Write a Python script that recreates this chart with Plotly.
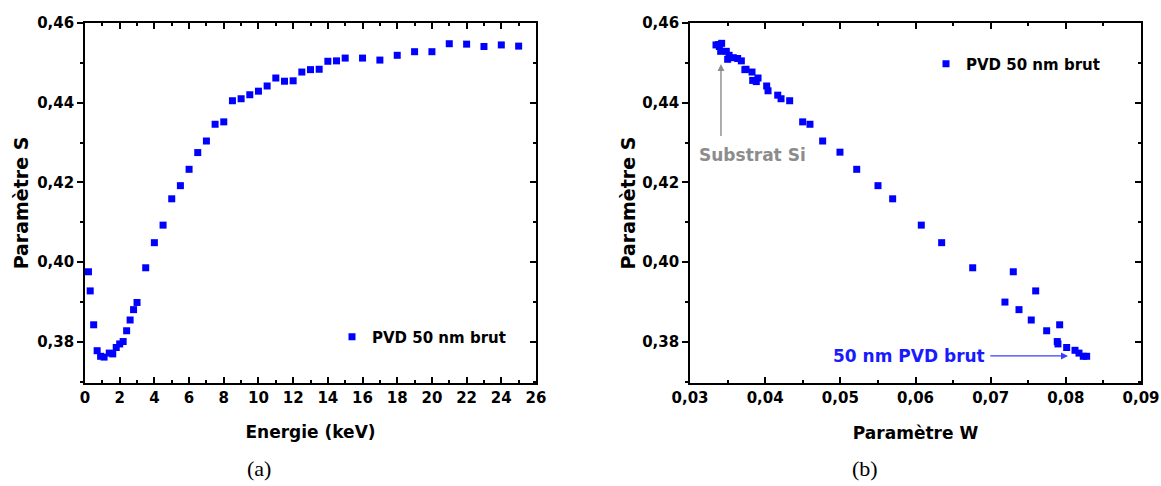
import plotly.graph_objects as go

# ---------------- data (a): S vs energy ----------------
energie_kev = [0.2, 0.3, 0.5, 0.7, 0.9, 1.1, 1.4, 1.6, 1.8, 2.0, 2.2, 2.4, 2.6, 2.8, 3.0,
               3.5, 4.0, 4.5, 5.0, 5.5, 6.0, 6.5, 7.0, 7.5, 8.0, 8.5, 9.0, 9.5, 10.0,
               10.5, 11.0, 11.5, 12.0, 12.5, 13.0, 13.5, 14.0, 14.5, 15.0, 16.0, 17.0,
               18.0, 19.0, 20.0, 21.0, 22.0, 23.0, 24.0, 25.0]
s_vs_energie = [0.3976, 0.3928, 0.3843, 0.3778, 0.3764, 0.3762, 0.3772, 0.3770, 0.3786,
                0.3795, 0.3801, 0.3828, 0.3855, 0.3881, 0.3899, 0.3986, 0.4049, 0.4093,
                0.4159, 0.4192, 0.4233, 0.4275, 0.4304, 0.4346, 0.4352, 0.4405, 0.4410,
                0.4420, 0.4429, 0.4442, 0.4462, 0.4454, 0.4455, 0.4477, 0.4483, 0.4484,
                0.4504, 0.4505, 0.4512, 0.4512, 0.4507, 0.4519, 0.4528, 0.4528, 0.4548,
                0.4547, 0.4541, 0.4545, 0.4542]

# ---------------- data (b): S vs W ----------------
param_w = [0.03346, 0.03382, 0.03421, 0.0339, 0.03408, 0.03483, 0.0352, 0.03501, 0.03576,
           0.03634, 0.03683, 0.0373, 0.03745, 0.03825, 0.03834, 0.03882, 0.03905, 0.0402,
           0.04038, 0.04167, 0.04211, 0.04326, 0.04499, 0.04596, 0.04765, 0.04995, 0.05218,
           0.05501, 0.05696, 0.06077, 0.06348, 0.06761, 0.07301, 0.07599, 0.0719, 0.07377,
           0.0754, 0.07745, 0.07918, 0.07886, 0.07895, 0.08011, 0.08122, 0.08175, 0.08232,
           0.08277]
s_vs_w = [0.4545, 0.4546, 0.4549, 0.4541, 0.4529, 0.4529, 0.4519, 0.4509, 0.4513,
          0.4511, 0.4505, 0.4483, 0.4484, 0.4477, 0.4456, 0.4453, 0.4462, 0.4442,
          0.4430, 0.4419, 0.4410, 0.4405, 0.4352, 0.4346, 0.4304, 0.4276, 0.4233,
          0.4192, 0.4159, 0.4093, 0.4049, 0.3986, 0.3976, 0.3928, 0.3900, 0.3881,
          0.3855, 0.3828, 0.3843, 0.3801, 0.3795, 0.3786, 0.3779, 0.3772, 0.3764,
          0.3764]

serie_label = "PVD 50 nm brut"
x_ticks_a = list(range(0, 27, 2))
s_range = [0.3697, 0.46]
e_range = [0, 26]
w_range = [0.03, 0.09]

W, H = 1161, 486
FONT = "DejaVu Sans"
BLUE = "#0000ff"

def px_x(p):
    return p / W

def px_y(p):
    return 1 - p / H

fig = go.Figure()

mk = dict(symbol="square", size=7, color=BLUE, line=dict(width=0))
fig.add_trace(go.Scatter(x=energie_kev, y=s_vs_energie, mode="markers", marker=mk,
                         name=serie_label, xaxis="x", yaxis="y", legend="legend",
                         hoverinfo="x+y"))
fig.add_trace(go.Scatter(x=param_w, y=s_vs_w, mode="markers", marker=mk,
                         name=serie_label, xaxis="x2", yaxis="y2", legend="legend2",
                         hoverinfo="x+y"))
# empty traces to carry the right-hand mirror axes
fig.add_trace(go.Scatter(x=[], y=[], xaxis="x", yaxis="y3", showlegend=False))
fig.add_trace(go.Scatter(x=[], y=[], xaxis="x2", yaxis="y4", showlegend=False))

tickfont = dict(family=FONT, size=15, color="black", weight="bold")
xtitlefont = dict(family=FONT, size=17, color="black", weight="bold")
ytitlefont = dict(family=FONT, size=19, color="black", weight="bold")
line = dict(showline=True, linecolor="black", linewidth=1.6, showgrid=False,
            zeroline=False, automargin=False)

ydom = [px_y(383), px_y(23)]

xa_common = dict(ticks="inside", ticklen=6, tickwidth=1.5, tickcolor="black",
                 mirror="ticks", tickfont=tickfont, **line)
ya_left = dict(ticks="outside", ticklen=6, tickwidth=1.5, tickcolor="black",
               tickfont=tickfont, range=s_range, tick0=0.38, dtick=0.02,
               tickformat=".2f", domain=ydom,
               minor=dict(dtick=0.01, ticks="outside", ticklen=3, tickwidth=1.5,
                          tickcolor="black", tick0=0.38), **line)
ya_right = dict(ticks="inside", ticklen=6, tickwidth=1.5, tickcolor="black",
                showticklabels=False, range=s_range, tick0=0.38, dtick=0.02,
                side="right",
                minor=dict(dtick=0.01, ticks="inside", ticklen=3, tickwidth=1.5,
                           tickcolor="black", tick0=0.38), **line)

fig.update_layout(
    width=W, height=H,
    margin=dict(l=0, r=0, t=0, b=0, autoexpand=False),
    paper_bgcolor="white", plot_bgcolor="white",
    separators=", ",
    font=dict(family=FONT, color="black"),
    xaxis=dict(domain=[px_x(85), px_x(536)], range=e_range, tickmode="array",
               tickvals=x_ticks_a, anchor="y",
               minor=dict(dtick=1, tick0=0, ticks="inside", ticklen=3, tickwidth=1.5,
                          tickcolor="black"),
               title=dict(text="Energie (keV)", font=xtitlefont, standoff=20),
               **xa_common),
    yaxis=dict(anchor="x", title=dict(text="Paramètre S", font=ytitlefont, standoff=4),
               **ya_left),
    yaxis3=dict(overlaying="y", anchor="x", **ya_right),
    xaxis2=dict(domain=[px_x(690), px_x(1141)], range=w_range, tick0=0.03, dtick=0.01,
                tickformat=".2f", anchor="y2",
                minor=dict(dtick=0.005, tick0=0.03, ticks="inside", ticklen=3,
                           tickwidth=1.5, tickcolor="black"),
                title=dict(text="Paramètre W", font=xtitlefont, standoff=21),
                **xa_common),
    yaxis2=dict(anchor="x2", title=dict(text="Paramètre S", font=ytitlefont, standoff=2),
                **ya_left),
    yaxis4=dict(overlaying="y2", anchor="x2", **ya_right),
    legend=dict(x=px_x(332), y=px_y(337), xanchor="left", yanchor="middle",
                bgcolor="rgba(0,0,0,0)",
                font=dict(family=FONT, size=15, color="black", weight="bold")),
    legend2=dict(x=px_x(926), y=px_y(64), xanchor="left", yanchor="middle",
                 bgcolor="rgba(0,0,0,0)",
                 font=dict(family=FONT, size=15, color="black", weight="bold")),
    showlegend=True,
)

annotations = [
    dict(text="Substrat Si", x=0.03093, y=0.4270, xref="x2", yref="y2",
         xanchor="left", yanchor="middle", showarrow=False,
         font=dict(family=FONT, size=17, color="#8c8c8c", weight="bold")),
    dict(text="", x=0.03412, y=0.4497, ax=0.03412, ay=0.4313, xref="x2", yref="y2",
         axref="x2", ayref="y2", showarrow=True, arrowhead=2, arrowsize=1,
         arrowwidth=1.4, arrowcolor="#8c8c8c"),
    dict(text="50 nm PVD brut", x=0.06951, y=0.3765, xref="x2", yref="y2",
         xanchor="right", yanchor="middle", showarrow=False,
         font=dict(family=FONT, size=17, color="#1a1aff", weight="bold")),
    dict(text="", x=0.08029, y=0.3765, ax=0.06975, ay=0.3765, xref="x2", yref="y2",
         axref="x2", ayref="y2", showarrow=True, arrowhead=2, arrowsize=1,
         arrowwidth=1.4, arrowcolor="#3d3dff"),
    dict(text="(a)", x=px_x(259), y=px_y(468), xref="paper", yref="paper",
         xanchor="center", yanchor="middle", showarrow=False,
         font=dict(family="Liberation Serif", size=22, color="black")),
    dict(text="(b)", x=px_x(865), y=px_y(468), xref="paper", yref="paper",
         xanchor="center", yanchor="middle", showarrow=False,
         font=dict(family="Liberation Serif", size=22, color="black")),
]
fig.update_layout(annotations=annotations)

# remove the browser's default page margin so the figure fills the window exactly
fig.write_html("out.html",
               config={"displayModeBar": False},
               post_script="document.body.style.margin='0';"
                           "document.body.style.overflow='hidden';")
